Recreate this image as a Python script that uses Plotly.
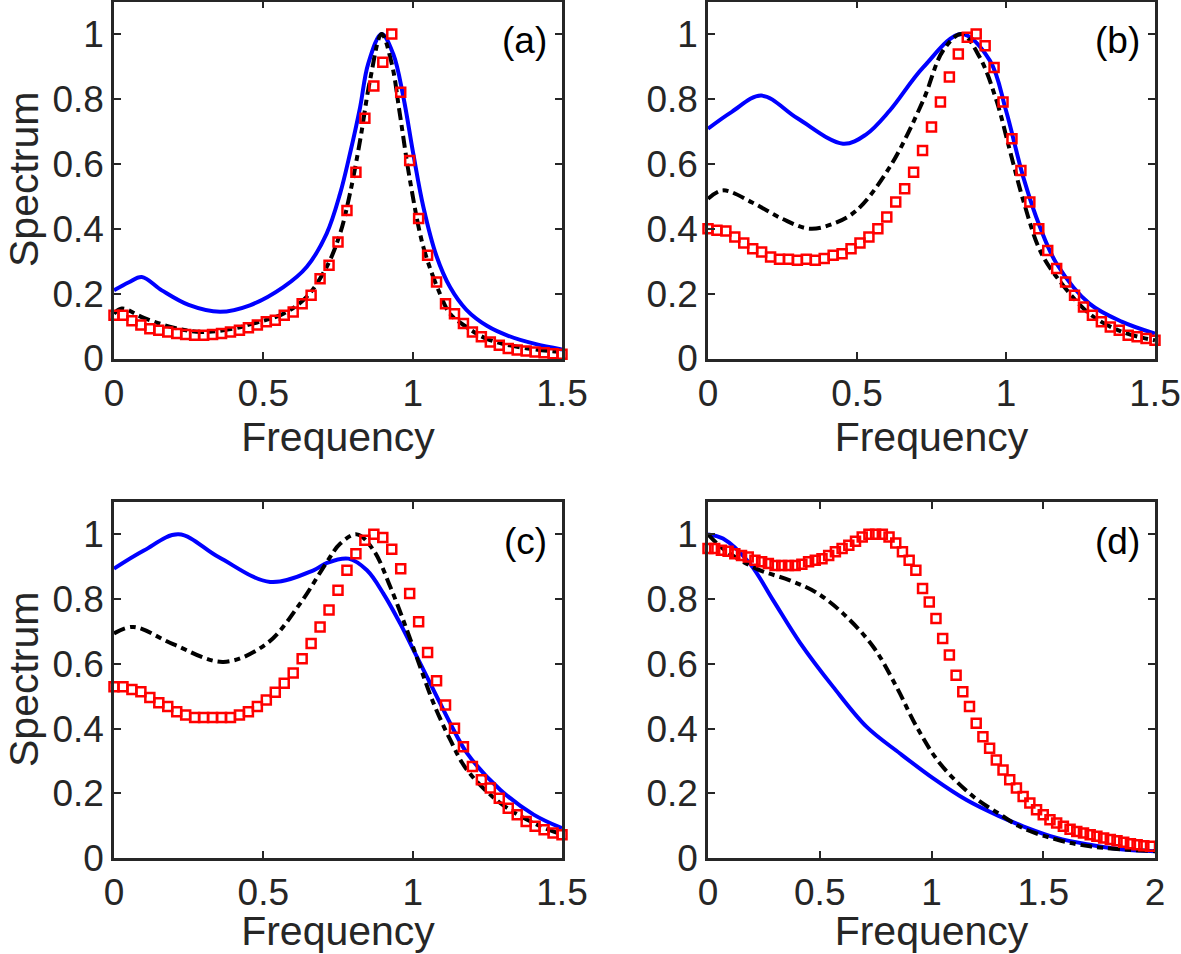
import plotly.graph_objects as go
from plotly.subplots import make_subplots

# ---- data ----
# panel (a)
a_blue_x = [0, 0.05, 0.093, 0.16, 0.25, 0.355, 0.455, 0.567, 0.645, 0.712, 0.757, 0.79, 0.824, 0.851, 0.896,
            0.935, 0.969, 1.002, 1.036, 1.08, 1.125, 1.18, 1.25, 1.32, 1.41, 1.5]
a_blue_y = [0.21, 0.235, 0.251, 0.21, 0.165, 0.144, 0.164, 0.22, 0.282, 0.385, 0.508, 0.631, 0.774, 0.908, 1.0,
            0.938, 0.805, 0.631, 0.466, 0.315, 0.22, 0.15, 0.1, 0.07, 0.045, 0.028]
a_black_x = [0, 0.026, 0.1, 0.2, 0.29, 0.4, 0.455, 0.567, 0.645, 0.712, 0.757, 0.79, 0.824, 0.857, 0.896, 0.93,
             0.957, 0.991, 1.036, 1.091, 1.125, 1.18, 1.25, 1.35, 1.5]
a_black_y = [0.138, 0.154, 0.125, 0.095, 0.082, 0.092, 0.105, 0.138, 0.19, 0.282, 0.385, 0.508, 0.672, 0.856, 1.0,
             0.908, 0.754, 0.549, 0.343, 0.2, 0.138, 0.097, 0.06, 0.036, 0.02]
a_red_y = [0.133, 0.133, 0.116, 0.103, 0.092, 0.087, 0.082, 0.077, 0.074, 0.072, 0.072, 0.074, 0.077, 0.082, 0.087,
           0.095, 0.103, 0.113, 0.118, 0.133, 0.143, 0.169, 0.195, 0.246, 0.287, 0.359, 0.456, 0.574, 0.74, 0.84,
           0.913, 1.0, 0.82, 0.61, 0.431, 0.318, 0.236, 0.169, 0.138, 0.108, 0.082, 0.067, 0.051, 0.041, 0.031,
           0.026, 0.023, 0.02, 0.018, 0.015, 0.013]

# panel (b)
b_blue_x = [0, 0.08, 0.179, 0.3, 0.453, 0.53, 0.61, 0.722, 0.851, 0.946, 1.0, 1.058, 1.114, 1.17, 1.28, 1.39, 1.5]
b_blue_y = [0.708, 0.76, 0.81, 0.74, 0.662, 0.69, 0.764, 0.897, 1.0, 0.918, 0.764, 0.559, 0.405, 0.292, 0.169,
            0.113, 0.077]
b_black_x = [0, 0.05, 0.15, 0.25, 0.341, 0.42, 0.498, 0.61, 0.722, 0.789, 0.851, 0.912, 0.968, 1.013, 1.058, 1.114,
             1.17, 1.28, 1.39, 1.5]
b_black_y = [0.492, 0.518, 0.48, 0.43, 0.4, 0.415, 0.456, 0.59, 0.795, 0.949, 1.0, 0.928, 0.795, 0.641, 0.487,
             0.333, 0.251, 0.138, 0.082, 0.056]
b_red_y = [0.4, 0.395, 0.393, 0.374, 0.356, 0.338, 0.328, 0.313, 0.306, 0.306, 0.303, 0.306, 0.303, 0.308, 0.318,
           0.323, 0.338, 0.356, 0.374, 0.4, 0.436, 0.482, 0.523, 0.574, 0.641, 0.713, 0.79, 0.867, 0.938, 0.99, 1.0,
           0.964, 0.897, 0.79, 0.677, 0.579, 0.482, 0.4, 0.333, 0.277, 0.236, 0.195, 0.159, 0.133, 0.113, 0.097,
           0.087, 0.072, 0.067, 0.062, 0.056]

# panel (c)
c_blue_x = [0, 0.1, 0.216, 0.35, 0.523, 0.668, 0.713, 0.785, 0.847, 0.902, 0.958, 1.014, 1.07, 1.126, 1.182, 1.293,
            1.405, 1.5]
c_blue_y = [0.894, 0.95, 1.0, 0.93, 0.853, 0.889, 0.912, 0.925, 0.889, 0.817, 0.725, 0.622, 0.519, 0.416, 0.324,
            0.211, 0.134, 0.092]
c_black_x = [0, 0.065, 0.2, 0.366, 0.512, 0.623, 0.713, 0.757, 0.813, 0.869, 0.925, 0.981, 1.025, 1.07, 1.126,
             1.182, 1.293, 1.405, 1.5]
c_black_y = [0.694, 0.714, 0.66, 0.606, 0.663, 0.786, 0.915, 0.971, 1.0, 0.951, 0.838, 0.704, 0.591, 0.478, 0.365,
             0.272, 0.17, 0.108, 0.072]
c_red_y = [0.529, 0.529, 0.521, 0.514, 0.496, 0.48, 0.468, 0.452, 0.442, 0.434, 0.434, 0.434, 0.434, 0.434, 0.442,
           0.452, 0.468, 0.488, 0.512, 0.54, 0.572, 0.616, 0.663, 0.714, 0.766, 0.827, 0.889, 0.94, 0.982, 1.0,
           0.99, 0.954, 0.894, 0.817, 0.73, 0.635, 0.548, 0.473, 0.401, 0.344, 0.283, 0.242, 0.216, 0.185, 0.154,
           0.134, 0.113, 0.098, 0.087, 0.077, 0.072]

# panel (d)
d_blue_x = [0, 0.067, 0.187, 0.291, 0.412, 0.561, 0.71, 0.859, 1.008, 1.157, 1.3, 1.41, 1.56, 1.709, 1.858, 2.0]
d_blue_y = [1.0, 0.987, 0.91, 0.797, 0.665, 0.528, 0.405, 0.323, 0.246, 0.179, 0.13, 0.098, 0.062, 0.041, 0.026,
            0.021]
d_black_x = [0, 0.067, 0.216, 0.366, 0.485, 0.605, 0.74, 0.844, 0.934, 1.038, 1.187, 1.306, 1.41, 1.56, 1.709,
             2.0]
d_black_y = [1.0, 0.956, 0.894, 0.858, 0.82, 0.755, 0.652, 0.528, 0.405, 0.292, 0.19, 0.135, 0.092, 0.057, 0.036,
             0.021]
d_red_y = [0.956, 0.956, 0.951, 0.948, 0.94, 0.935, 0.93, 0.92, 0.915, 0.91, 0.904, 0.904, 0.904, 0.904, 0.908,
           0.915, 0.92, 0.925, 0.935, 0.946, 0.956, 0.966, 0.979, 0.992, 1.0, 1.0, 1.0, 0.992, 0.973, 0.946, 0.92,
           0.889, 0.833, 0.791, 0.74, 0.678, 0.627, 0.565, 0.514, 0.468, 0.416, 0.375, 0.339, 0.303, 0.272, 0.242,
           0.216, 0.19, 0.17, 0.149, 0.134, 0.118, 0.108, 0.098, 0.089, 0.082, 0.077, 0.072, 0.067, 0.062, 0.057,
           0.053, 0.049, 0.044, 0.041, 0.038, 0.036]

red_step = 0.03
panel_labels = ["(a)", "(b)", "(c)", "(d)"]
x_ticks_short = [0, 0.5, 1, 1.5]
x_ticks_long = [0, 0.5, 1, 1.5, 2]
y_ticks = [0, 0.2, 0.4, 0.6, 0.8, 1]
y_ticktext = ["0", "0.2", "0.4", "0.6", "0.8", "1"]

panels = [
    (a_blue_x, a_blue_y, a_black_x, a_black_y, a_red_y, 1, 1),
    (b_blue_x, b_blue_y, b_black_x, b_black_y, b_red_y, 1, 2),
    (c_blue_x, c_blue_y, c_black_x, c_black_y, c_red_y, 2, 1),
    (d_blue_x, d_blue_y, d_black_x, d_black_y, d_red_y, 2, 2),
]

INK = "#262626"
FONT = "Liberation Sans, Arial, Helvetica, sans-serif"
TICK_SIZE = 37
LABEL_SIZE = 41

fig = make_subplots(rows=2, cols=2)

for bx, by, kx, ky, ry, r, c in panels:
    rx = [round(i * red_step, 4) for i in range(len(ry))]
    fig.add_trace(go.Scatter(x=bx, y=by, mode="lines", line=dict(color="#0000ff", width=4, shape="spline"),
                             showlegend=False), row=r, col=c)
    fig.add_trace(go.Scatter(x=kx, y=ky, mode="lines",
                             line=dict(color="black", width=4, dash="12px,5px,6px,5px", shape="spline"),
                             showlegend=False), row=r, col=c)
    fig.add_trace(go.Scatter(x=rx, y=ry, mode="markers",
                             marker=dict(symbol="square-open", size=9, color="#ff0000", line=dict(width=2.5)),
                             showlegend=False, cliponaxis=False), row=r, col=c)

W, H = 1181, 954
xdom = {1: [114 / W, 562 / W], 2: [708 / W, 1155 / W]}
ydom = {1: [1 - 358.5 / H, 1 - 1.5 / H], 2: [1 - 858 / H, 1 - 502 / H]}

for i, (bx, by, kx, ky, ry, r, c) in enumerate(panels):
    n = "" if i == 0 else str(i + 1)
    xt = x_ticks_long if i == 3 else x_ticks_short
    fig.layout["xaxis" + n].update(
        domain=xdom[c], range=[0, xt[-1]], tickvals=xt, ticktext=[f"{v:g}" for v in xt], automargin=False,
        showgrid=False, zeroline=False, showline=True, linecolor=INK, linewidth=2.5, mirror="ticks",
        ticks="inside", ticklen=7, tickwidth=2, tickcolor=INK,
        tickfont=dict(size=TICK_SIZE, color=INK, family=FONT),
        title=dict(text="Frequency", font=dict(size=LABEL_SIZE, color=INK, family=FONT), standoff=0),
    )
    fig.layout["yaxis" + n].update(
        domain=ydom[r], range=[0, 1.1], tickvals=y_ticks, ticktext=y_ticktext, automargin=False,
        showgrid=False, zeroline=False, showline=True, linecolor=INK, linewidth=2.5, mirror="ticks",
        ticks="inside", ticklen=7, tickwidth=2, tickcolor=INK,
        tickfont=dict(size=TICK_SIZE, color=INK, family=FONT),
    )
    if c == 1:
        # y label sits closer to the page edge than plotly's margin-bound axis title allows
        fig.add_annotation(text="Spectrum", textangle=-90, xref="paper", yref=f"y{n} domain",
                           x=0, y=0.5, xanchor="left", yanchor="middle", showarrow=False,
                           borderpad=0, font=dict(size=LABEL_SIZE, color=INK, family=FONT))
    fig.add_annotation(text=panel_labels[i], xref=f"x{n} domain", yref=f"y{n} domain", x=0.97, y=0.89,
                       xanchor="right", yanchor="middle", showarrow=False,
                       font=dict(size=TICK_SIZE, color="black", family=FONT))

fig.update_layout(width=W, height=H, margin=dict(l=0, r=0, t=0, b=0),
                  paper_bgcolor="white", plot_bgcolor="white", font=dict(family=FONT, color=INK))

# drop the browser's default page margin so the figure sits at the top-left corner
fig.write_html("out.html", config={"displayModeBar": False},
               post_script="document.body.style.margin = '0';")
